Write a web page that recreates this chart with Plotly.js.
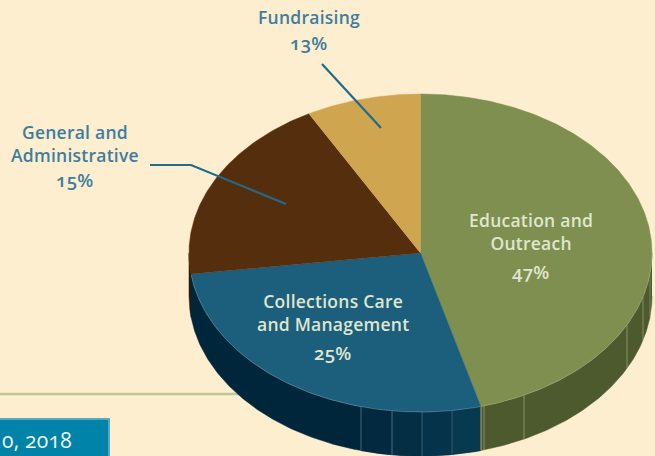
<!DOCTYPE html>
<html><head><meta charset="utf-8">
<script src="https://cdn.plot.ly/plotly-3.0.1.min.js"></script>
<style>
html,body{margin:0;padding:0;background:#fdeed0;overflow:hidden}
#chart{width:655px;height:456px}
.annotation-text{font-feature-settings:"onum" 1;font-variant-numeric:oldstyle-nums;letter-spacing:0.25px}
</style></head><body><div id="chart"></div>
<script>
// Category names and the percentages printed on the chart
const categories = ["Education and<br>Outreach","Collections Care<br>and Management","General and<br>Administrative","Fundraising"];
const printedPercent = [47,25,15,13];
// Share of the ellipse each wedge occupies as actually drawn
const drawnShare = [45.8,27.1,19.1,8.0];
const topColors = ["#7f8f4f","#1c5f7c","#552e0d","#d0a550"];
const sideColors = ["#4c5a2d","#00263b","#2e1808","#8a6a2c"];

const cx=420.5, cy=253, rx=231.5, ry=159, cyB=296, ryB=160, W=655, H=456;
const pt=(deg,c,r)=>{const a=deg*Math.PI/180;return [cx+rx*Math.sin(a),c-r*Math.cos(a)];};
const arc=(a,b,c,r)=>{const n=Math.max(2,Math.ceil(Math.abs(b-a)*2));const o=[];for(let i=0;i<=n;i++)o.push(pt(a+(b-a)*i/n,c,r));return o;};
const traces=[];
const poly=(pts,color,lw,lc)=>traces.push({type:'scatter',mode:'lines',x:pts.map(p=>p[0]),y:pts.map(p=>p[1]),fill:'toself',fillcolor:color,line:{color:lc||color,width:lw===undefined?0.5:lw},hoverinfo:'skip',showlegend:false});
const line=(xs,ys,color,w)=>traces.push({type:'scatter',mode:'lines',x:xs,y:ys,line:{color,width:w},hoverinfo:'skip',showlegend:false});

// wedge boundaries, clockwise from 12 o'clock
const edges=[0];drawnShare.forEach(s=>edges.push(edges[edges.length-1]+s*3.6));
const side=(a,b,color)=>poly(arc(a,b,cy,ry).concat(arc(b,a,cyB,ryB)),color);
edges.slice(0,-1).forEach((e,i)=>{
  const a=Math.max(e,90),b=Math.min(edges[i+1],270);
  if(b>a) side(a,b,sideColors[i]);
});
// faceted shading on the front wall of the blue wedge (screen x of each seam)
const deg=x=>180-Math.asin((x-cx)/rx)*180/Math.PI;
const facetX=[361,392,422,452];
const facetCol=["#02293f","#032e44","#05334a","#07394f"];
const E1=edges[1];
facetX.forEach((x,i)=>{const a=deg(x),b=i<3?deg(facetX[i+1]):E1;side(b,a,facetCol[i]);});
// seams
[[361,'rgba(140,165,175,0.5)'],[392,'rgba(140,165,175,0.55)'],[422,'rgba(140,165,175,0.4)'],[452,'rgba(140,165,175,0.35)'],
 [481,'rgba(190,195,150,0.8)'],[484,'rgba(190,195,150,0.5)'],[524,'rgba(190,195,150,0.55)'],[627,'rgba(190,195,150,0.55)'],[643,'rgba(190,195,150,0.5)'],[650,'rgba(190,195,150,0.4)']]
.forEach(s=>{const t=deg(s[0]);const p=pt(t,cy,ry),q=pt(t,cyB,ryB);line([p[0],q[0]],[p[1],q[1]],s[1],1);});
// top faces
edges.slice(0,-1).forEach((e,i)=>{poly([[cx,cy]].concat(arc(e,edges[i+1],cy,ry)),topColors[i]);});
// thin highlight on the front rim
const rim=arc(90,262,cy,ry);line(rim.map(p=>p[0]),rim.map(p=>p[1]),'rgba(200,215,200,0.35)',0.7);
// horizontal rule
traces.unshift({type:'scatter',mode:'lines',x:[0,245],y:[394,394],line:{color:'#bfc696',width:2.5},hoverinfo:'skip',showlegend:false});
// leader lines
line([322,381],[64,128],'#1f6c8c',2.2);
line([150,191,286],[165,165,204],'#1f6c8c',2.2);

const lab=(x,y,text,color,size)=>({x,y,xref:'x',yref:'y',text,showarrow:false,align:'center',xanchor:'center',yanchor:'middle',font:{family:'"Open Sans",sans-serif',size,color,weight:600}});
const light='#dfe6cf', blue='#3f7d9e';
const annotations=[
 lab(530.5,231,categories[0],light,17.5),
 lab(530.5,271.5,printedPercent[0]+'%',light,18.5),
 lab(333,312,categories[1],light,17.5),
 lab(333,352.5,printedPercent[1]+'%',light,18.5),
 lab(75,143.5,categories[2],blue,17.5),
 lab(75,179.5,printedPercent[2]+'%',blue,18.5),
 lab(309,17,categories[3],blue,17.5),
 lab(309,42.5,printedPercent[3]+'%',blue,18.5),
 {x:74,y:456,xref:'x',yref:'y',text:'0, 2018',showarrow:false,xanchor:'right',yanchor:'bottom',font:{family:'"Open Sans",sans-serif',size:21,color:'#f0f5ee'}}
];
const shapes=[{type:'rect',xref:'x',yref:'y',x0:-4,x1:109,y0:419,y1:470,fillcolor:'#0083a8',line:{color:'#5aa9ba',width:2},layer:'below'}];
Plotly.newPlot('chart',traces,{
 width:W,height:H,margin:{l:0,r:0,t:0,b:0},paper_bgcolor:'#fdeed0',plot_bgcolor:'#fdeed0',showlegend:false,
 xaxis:{range:[0,W],visible:false,fixedrange:true},yaxis:{range:[H,0],visible:false,fixedrange:true},
 annotations,shapes},{displayModeBar:false,staticPlot:true});
</script></body></html>
